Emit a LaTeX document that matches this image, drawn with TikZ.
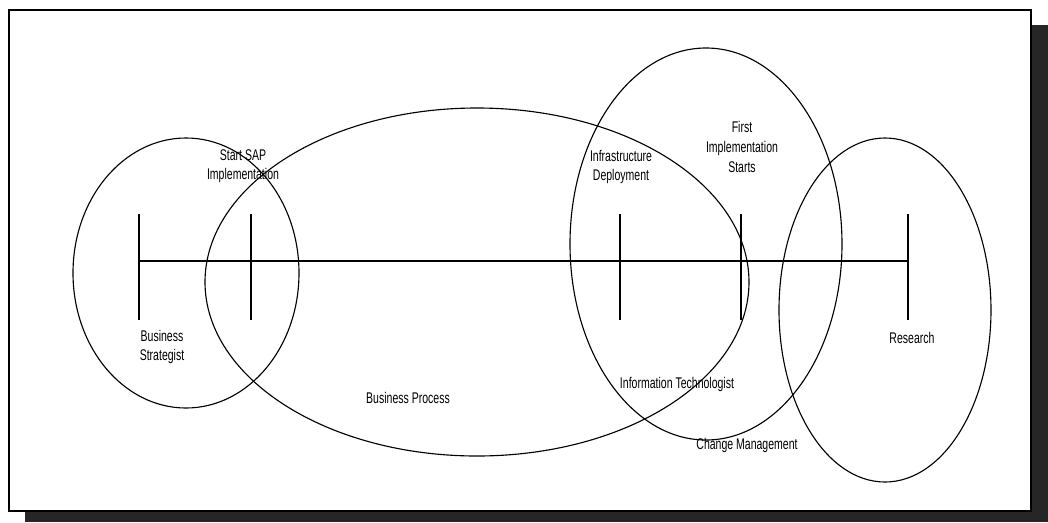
\documentclass[tikz,border=0pt]{standalone}
\usepackage{fontspec}
\newfontfamily\labelfont[FakeStretch=0.68]{Liberation Sans}
\usepackage{tikz}

\begin{document}
\begin{tikzpicture}[x=0.025cm, y=-0.025cm,
  zone/.style={draw=black, line width=0.8pt},
  tick/.style={draw=black, line width=0.8pt},
  lbl/.style={font=\labelfont\fontsize{11}{13.9}\selectfont, align=center, inner sep=0pt},
]
  \useasboundingbox (0,0) rectangle (1048,522);
  % frame with shadow
  \fill[black!85] (1031,25) rectangle (1048,522);
  \fill[black!85] (25,512) rectangle (1048,522);
  \draw[fill=white, line width=1pt] (9,10) rectangle (1031,511);

  % time line
  \foreach \x/\n in {139/a, 251/b, 620/c, 741/d, 908/e}{
    \coordinate (t\n) at (\x,261);
    \draw[tick] (\x,214) -- (\x,320);
  }
  \draw[tick] (ta) -- (te);

  % zones
  \draw[zone] (186,273) ellipse [x radius=113, y radius=135];
  \draw[zone] (477,282) ellipse [x radius=272, y radius=174];
  \draw[zone] (706,244) ellipse [x radius=136, y radius=196];
  \draw[zone] (885,310) ellipse [x radius=106, y radius=172];

  % labels
  \node[lbl] (start) at (243,166) {Start SAP\\Implementation};
  \node[lbl] (infra) at (621,167) {Infrastructure\\Deployment};
  \node[lbl] (first) at (742,147) {First\\Implementation\\Starts};
  \node[lbl] (strat) at (162,347) {Business\\Strategist};
  \node[lbl] (research) at (912,338) {Research};
  \node[lbl] (process) at (408,398) {Business Process};
  \node[lbl] (infotech) at (677,384) {Information Technologist};
  \node[lbl] (change) at (747,445) {Change Management};
\end{tikzpicture}
\end{document}
